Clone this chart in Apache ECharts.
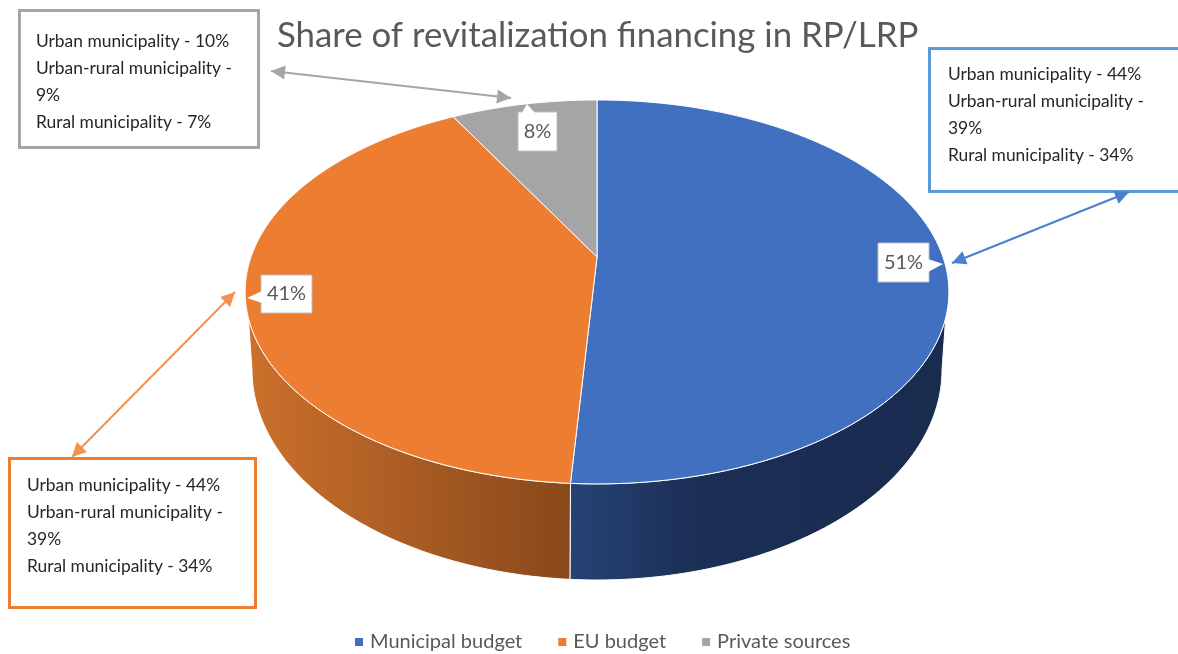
<!DOCTYPE html>
<html>
<head>
<meta charset="utf-8">
<style>html,body{margin:0;padding:0;background:#fff;overflow:hidden}#root{width:1178px;height:654px}</style>
<script src="https://cdn.jsdelivr.net/npm/echarts@6/dist/echarts.min.js"></script>
</head>
<body>
<div id="root"></div>
<script>
const titleText = 'Share of revitalization financing in RP/LRP';
const categories = ['Municipal budget', 'EU budget', 'Private sources'];
const shares = [51, 41, 8];
const municipalNote = 'Urban municipality - 44%\nUrban-rural municipality -\n39%\nRural municipality - 34%';
const euNote = 'Urban municipality - 44%\nUrban-rural municipality -\n39%\nRural municipality - 34%';
const privateNote = 'Urban municipality - 10%\nUrban-rural municipality -\n9%\nRural municipality - 7%';

const colors = ['#4270c0', '#ed7d31', '#a5a5a5'];
const wallStops = [
  [[0, '#264374'], [0.35, '#1b2e55'], [1, '#1a2b50']],
  [[0, '#cc702b'], [1, '#88481b'], [1, '#88481b']]
];

// the pie is a tilted disc: the rim goes through a perspective projection,
// so the apex sits above the middle of the rim ellipse
const disc = { x: 597, y: 257, a: 346, b: 185.6, k: 0.182 };
const base = { x: 597, y: 370, rx: 345, ry: 210 };
const wallFrom = 108; // where the side wall comes out from behind the top face
const wallTo = 252;

function rimPoint(deg) {
  const r = deg * Math.PI / 180;
  const u = Math.sin(r), v = -Math.cos(r);
  const w = 1 - disc.k * v;
  return [disc.x + disc.a * u / w, disc.y + disc.b * v / w];
}

function basePoint(deg) {
  const t = (180 + (deg - 180) * 90 / (wallTo - 180)) * Math.PI / 180;
  return [base.x + base.rx * Math.sin(t), base.y - base.ry * Math.cos(t)];
}

function sample(fn, from, to) {
  const pts = [];
  for (let d = from; d < to; d += 1) pts.push(fn(d));
  pts.push(fn(to));
  return pts;
}

// value labels with a little tail pointing at the rim
const callouts = [
  { x: 878, y: 243, w: 51, h: 39, tail: [[928, 259], [943, 264], [928, 272]] },
  { x: 261, y: 275, w: 51, h: 38, tail: [[262, 291], [247, 298], [262, 303]] },
  { x: 518, y: 112, w: 39, h: 39, tail: [[522, 113], [527, 104], [535, 113]] }
];

function renderSlice(params, api) {
  const i = params.seriesIndex;
  const start = shares.slice(0, i).reduce((a, b) => a + b, 0) * 3.6;
  const end = start + api.value(0) * 3.6;
  const children = [];

  const wa = Math.max(start, wallFrom), wb = Math.min(end, wallTo);
  if (wa < wb) {
    const top = sample(rimPoint, wa, wb);
    const bottom = sample(basePoint, wa, wb).reverse();
    const xs = top.concat(bottom).map(p => p[0]);
    children.push({
      type: 'polygon',
      shape: { points: top.concat(bottom) },
      style: {
        fill: new echarts.graphic.LinearGradient(Math.min(...xs), 0, Math.max(...xs), 0, wallStops[i].map(s => ({ offset: s[0], color: s[1] })), true),
        stroke: '#fff',
        lineWidth: 1
      }
    });
  }

  children.push({
    type: 'polygon',
    shape: { points: [[disc.x, disc.y]].concat(sample(rimPoint, start, end)) },
    style: { fill: colors[i], stroke: '#fff', lineWidth: 1 }
  });

  const c = callouts[i];
  children.push({
    type: 'rect',
    shape: { x: c.x, y: c.y, width: c.w, height: c.h },
    style: { fill: '#fff', stroke: '#bfbfbf', lineWidth: 1 }
  });
  children.push({
    type: 'polygon',
    shape: { points: c.tail },
    style: { fill: '#fff', stroke: null }
  });
  children.push({
    type: 'text',
    style: {
      x: c.x + c.w / 2,
      y: c.y + c.h / 2,
      text: api.value(0) + '%',
      align: 'center',
      verticalAlign: 'middle',
      fill: '#595959',
      font: '20px Lato'
    }
  });
  return { type: 'group', children: children };
}

function noteBox(x, y, w, h, color, text, textX, textY) {
  return [
    {
      type: 'rect',
      shape: { x: x, y: y, width: w, height: h },
      style: { fill: '#fff', stroke: color, lineWidth: 3 }
    },
    {
      type: 'text',
      x: textX,
      y: textY,
      style: { text: text, fill: '#262626', font: '17.4px Lato', lineHeight: 27 }
    }
  ];
}

function arrow(p, q, color, width) {
  const len = Math.hypot(q[0] - p[0], q[1] - p[1]);
  const ux = (q[0] - p[0]) / len, uy = (q[1] - p[1]) / len;
  const head = (tip, dx, dy) => ({
    type: 'polygon',
    shape: {
      points: [
        tip,
        [tip[0] + dx * 14 - dy * 7, tip[1] + dy * 14 + dx * 7],
        [tip[0] + dx * 14 + dy * 7, tip[1] + dy * 14 - dx * 7]
      ]
    },
    style: { fill: color }
  });
  return [
    { type: 'line', shape: { x1: p[0], y1: p[1], x2: q[0], y2: q[1] }, style: { stroke: color, lineWidth: width } },
    head(p, ux, uy),
    head(q, -ux, -uy)
  ];
}

const chart = echarts.init(document.getElementById('root'));

chart.setOption({
  animation: false,
  backgroundColor: '#fff',
  title: {
    text: titleText,
    left: 272,
    top: 13,
    textStyle: { fontFamily: 'Lato', fontSize: 34.8, fontWeight: 'normal', color: '#595959' }
  },
  legend: {
    data: categories,
    left: 350,
    top: 627,
    icon: 'rect',
    itemWidth: 8,
    itemHeight: 8,
    itemGap: 36,
    textStyle: { fontFamily: 'Lato', fontSize: 20, color: '#595959', padding: [0, 0, 0, 2] }
  },
  graphic: {
    elements: [].concat(
      noteBox(19.5, 10.5, 239, 137, '#a6a6a6', privateNote, 36, 28),
      noteBox(929.5, 48.5, 270, 143, '#5b9bd5', municipalNote, 948, 61),
      noteBox(9.5, 458.5, 246, 149, '#ed7d31', euNote, 27, 472),
      arrow([271, 71], [511, 98], '#a6a6a6', 2),
      arrow([952, 263], [1129, 192], '#4a7fd0', 2),
      arrow([235, 292], [72, 457], '#f4914f', 2)
    )
  },
  series: categories.map((name, i) => ({
    type: 'custom',
    name: name,
    coordinateSystem: 'none',
    renderItem: renderSlice,
    itemStyle: { color: colors[i] },
    data: [[shares[i]]]
  }))
});
</script>
</body>
</html>
